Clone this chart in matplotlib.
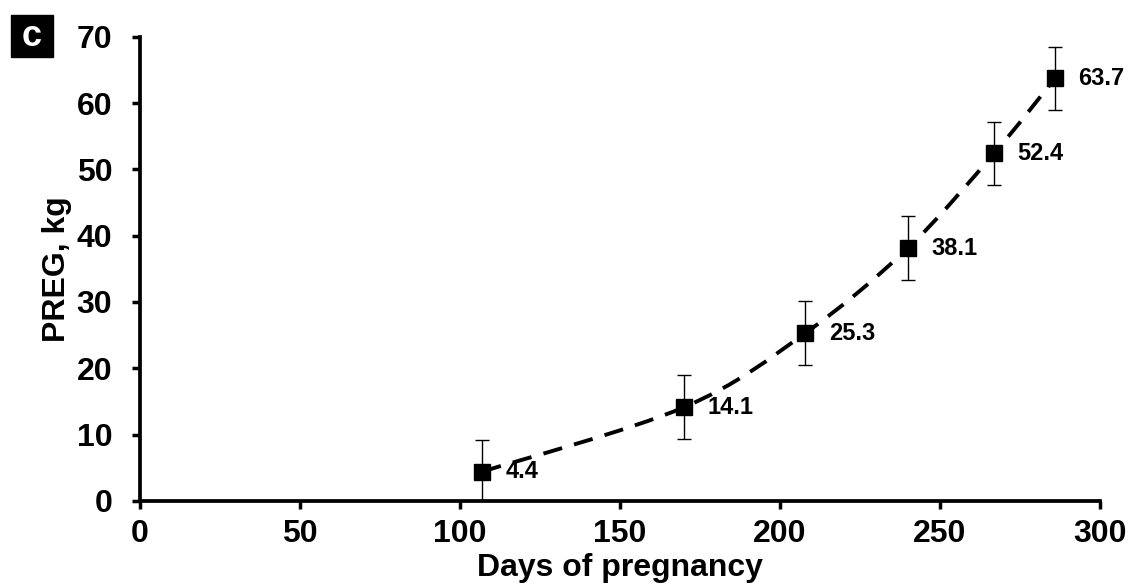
import numpy as np
import matplotlib
matplotlib.use('Agg')
import matplotlib.pyplot as plt
from matplotlib.patches import Rectangle, PathPatch
from matplotlib.path import Path

plt.rcParams['font.family'] = ['Liberation Sans', 'DejaVu Sans']
plt.rcParams['font.weight'] = 'bold'

days = [107, 170, 208, 240, 267, 286]
preg = [4.4, 14.1, 25.3, 38.1, 52.4, 63.7]
err = [4.8, 4.8, 4.8, 4.8, 4.8, 4.8]
labels = ['4.4', '14.1', '25.3', '38.1', '52.4', '63.7']

fig = plt.figure(figsize=(11.29, 5.83), dpi=100)
ax = fig.add_axes([0.124, 0.141, 0.850, 0.796])

# smoothed line through the points (Catmull-Rom as Bezier segments)
pts = np.column_stack([days, preg]).astype(float)
ext = np.vstack([pts[0], pts, pts[-1]])
verts = [pts[0]]
codes = [Path.MOVETO]
for i in range(len(pts) - 1):
    p0, p1, p2, p3 = ext[i], ext[i + 1], ext[i + 2], ext[i + 3]
    verts += [p1 + (p2 - p0) / 6, p2 - (p3 - p1) / 6, p2]
    codes += [Path.CURVE4] * 3
ax.add_patch(PathPatch(Path(verts, codes), fill=False, edgecolor='black',
                       lw=2.8, linestyle=(0, (5, 3.2)), zorder=2))

ax.errorbar(days, preg, yerr=err, fmt='none', ecolor='black',
            elinewidth=1, capsize=5, capthick=1, zorder=3)
ax.plot(days, preg, 's', color='black', markersize=12, zorder=4)

for x, y, t in zip(days, preg, labels):
    ax.annotate(t, (x, y), xytext=(17, 0), textcoords='offset points',
                ha='left', va='center', fontsize=17, fontweight='bold')

ax.set_xlim(0, 300)
ax.set_ylim(0, 70)
ax.set_xticks(range(0, 301, 50))
ax.set_yticks(range(0, 71, 10))
ax.tick_params(axis='both', labelsize=23, width=2.5, length=6)
ax.tick_params(axis='x', pad=7)
ax.tick_params(axis='y', pad=14)

for s in ['top', 'right']:
    ax.spines[s].set_visible(False)
for s in ['left', 'bottom']:
    ax.spines[s].set_linewidth(2.7)

ax.set_xlabel('Days of pregnancy', fontsize=23, fontweight='bold')
ax.xaxis.set_label_coords(0.5, -0.112)
ax.set_ylabel('PREG, kg', fontsize=23, fontweight='bold')
ax.yaxis.set_label_coords(-0.071, 0.5)

# panel letter
fig.patches.append(Rectangle((11 / 1129, 1 - 57 / 583), 42 / 1129, 42 / 583,
                             transform=fig.transFigure, color='black'))
fig.text(32 / 1129, 1 - 37 / 583, 'c', color='white', fontsize=26,
         fontweight='heavy', ha='center', va='center')

fig.savefig('out.png', dpi=100)
